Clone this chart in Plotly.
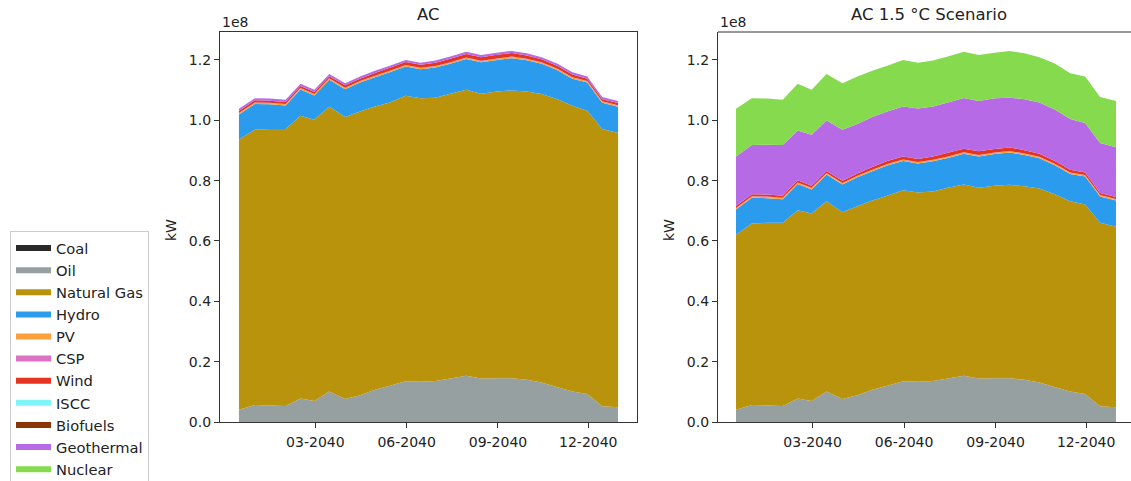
import plotly.graph_objects as go

# Semi-monthly sample dates
DATES = [
    "2039-12-15", "2039-12-31", "2040-01-15", "2040-01-31", "2040-02-15", "2040-02-29",
    "2040-03-15", "2040-03-31", "2040-04-15", "2040-04-30", "2040-05-15", "2040-05-31",
    "2040-06-15", "2040-06-30", "2040-07-15", "2040-07-31", "2040-08-15", "2040-08-31",
    "2040-09-15", "2040-09-30", "2040-10-15", "2040-10-31", "2040-11-15", "2040-11-30",
    "2040-12-15", "2040-12-31",
]

# Generation by source, in units of 1e8 kW
COAL = [0.0, 0.0, 0.0, 0.0, 0.0, 0.0, 0.0, 0.0, 0.0, 0.0, 0.0, 0.0, 0.0,
        0.0, 0.0, 0.0, 0.0, 0.0, 0.0, 0.0, 0.0, 0.0, 0.0, 0.0, 0.0, 0.0]
OIL = [0.041, 0.056, 0.055, 0.053, 0.078, 0.070, 0.101, 0.076, 0.089, 0.107, 0.120, 0.135, 0.133,
       0.136, 0.144, 0.153, 0.144, 0.145, 0.145, 0.140, 0.131, 0.115, 0.101, 0.093, 0.052, 0.049]
GAS_AC = [0.895, 0.913, 0.916, 0.918, 0.937, 0.932, 0.945, 0.935, 0.940, 0.939, 0.939, 0.946, 0.940,
          0.939, 0.944, 0.948, 0.944, 0.950, 0.954, 0.955, 0.956, 0.955, 0.947, 0.939, 0.919, 0.909]
GAS_15 = [0.580, 0.602, 0.605, 0.607, 0.624, 0.621, 0.631, 0.619, 0.626, 0.627, 0.630, 0.633, 0.628,
          0.628, 0.632, 0.634, 0.632, 0.638, 0.641, 0.641, 0.643, 0.639, 0.631, 0.628, 0.608, 0.598]
HYDRO = [0.083, 0.085, 0.082, 0.078, 0.087, 0.080, 0.088, 0.092, 0.096, 0.097, 0.100, 0.097, 0.096,
         0.100, 0.099, 0.102, 0.104, 0.105, 0.107, 0.104, 0.100, 0.096, 0.090, 0.093, 0.087, 0.087]
PV = [0.004, 0.004, 0.004, 0.004, 0.004, 0.004, 0.004, 0.004, 0.004, 0.004, 0.004, 0.004, 0.004,
      0.004, 0.004, 0.004, 0.004, 0.004, 0.004, 0.004, 0.004, 0.004, 0.004, 0.004, 0.004, 0.004]
CSP = [0.001, 0.001, 0.001, 0.001, 0.001, 0.001, 0.001, 0.001, 0.001, 0.001, 0.001, 0.001, 0.001,
       0.001, 0.001, 0.001, 0.001, 0.001, 0.001, 0.001, 0.001, 0.001, 0.001, 0.001, 0.001, 0.001]
WIND = [0.007, 0.007, 0.007, 0.007, 0.007, 0.007, 0.007, 0.008, 0.008, 0.009, 0.010, 0.010, 0.010,
        0.011, 0.012, 0.012, 0.012, 0.012, 0.012, 0.011, 0.010, 0.009, 0.009, 0.008, 0.007, 0.007]
ISCC = [0.0, 0.0, 0.0, 0.0, 0.0, 0.0, 0.0, 0.0, 0.0, 0.0, 0.0, 0.0, 0.0,
        0.0, 0.0, 0.0, 0.0, 0.0, 0.0, 0.0, 0.0, 0.0, 0.0, 0.0, 0.0, 0.0]
BIOFUELS = [0.0, 0.0, 0.0, 0.0, 0.0, 0.0, 0.0, 0.0, 0.0, 0.0, 0.0, 0.0, 0.0,
            0.0, 0.0, 0.0, 0.0, 0.0, 0.0, 0.0, 0.0, 0.0, 0.0, 0.0, 0.0, 0.0]
GEO_AC = [0.007, 0.007, 0.007, 0.007, 0.007, 0.007, 0.007, 0.007, 0.007, 0.007, 0.007, 0.007, 0.007,
          0.007, 0.007, 0.007, 0.007, 0.007, 0.007, 0.007, 0.007, 0.007, 0.007, 0.007, 0.007, 0.007]
GEO_15 = [0.164, 0.163, 0.165, 0.168, 0.165, 0.169, 0.167, 0.169, 0.164, 0.166, 0.164, 0.166, 0.167,
          0.166, 0.167, 0.168, 0.167, 0.168, 0.165, 0.169, 0.170, 0.171, 0.168, 0.164, 0.166, 0.165]
NUC_AC = [0.0, 0.0, 0.0, 0.0, 0.0, 0.0, 0.0, 0.0, 0.0, 0.0, 0.0, 0.0, 0.0,
          0.0, 0.0, 0.0, 0.0, 0.0, 0.0, 0.0, 0.0, 0.0, 0.0, 0.0, 0.0, 0.0]
NUC_15 = [0.158, 0.155, 0.153, 0.150, 0.155, 0.149, 0.154, 0.154, 0.157, 0.153, 0.152, 0.154, 0.152,
          0.152, 0.152, 0.153, 0.152, 0.151, 0.155, 0.152, 0.150, 0.152, 0.152, 0.154, 0.152, 0.153]

SOURCES = ["Coal", "Oil", "Natural Gas", "Hydro", "PV", "CSP", "Wind",
           "ISCC", "Biofuels", "Geothermal", "Nuclear"]
COLORS = ["#2a2a2a", "#97a0a1", "#b8930b", "#2b9bee", "#fba03b", "#dd72c4", "#e5341f",
          "#7ff5f7", "#8a3506", "#b76ae6", "#86da4e"]

SCENARIOS = [
    ("AC", [COAL, OIL, GAS_AC, HYDRO, PV, CSP, WIND, ISCC, BIOFUELS, GEO_AC, NUC_AC]),
    ("AC 1.5 °C Scenario", [COAL, OIL, GAS_15, HYDRO, PV, CSP, WIND, ISCC, BIOFUELS, GEO_15, NUC_15]),
]

UNIT = 1e8
FONT = "DejaVu Sans"
TXT = "#222222"
AXC = "#333333"

W, H = 1131, 481
ML, MR, MT, MB = 220, 0, 32, 59
PW = W - ML - MR
PH = H - MT - MB

DOMAINS = [[0.0, (637 - ML) / PW], [(718 - ML) / PW, 1.0]]
XRANGES = [["2039-11-25 21:36", "2041-01-19 02:24"], ["2039-11-26 21:36", "2041-01-15 02:24"]]
YMAX = 1.2926 * UNIT

fig = go.Figure()

for k, (title, layers) in enumerate(SCENARIOS):
    xa = "x" if k == 0 else "x2"
    ya = "y" if k == 0 else "y2"
    for name, color, vals in zip(SOURCES, COLORS, layers):
        fig.add_trace(go.Scatter(
            x=DATES, y=[v * UNIT for v in vals],
            stackgroup=f"stack{k}", mode="none",
            fillcolor=color, name=name, legendgroup=name,
            showlegend=(k == 0), xaxis=xa, yaxis=ya,
        ))

tick_x = ["2040-03-01", "2040-06-01", "2040-09-01", "2040-12-01"]
tick_x_txt = ["03-2040", "06-2040", "09-2040", "12-2040"]
tick_y = [0, 0.2e8, 0.4e8, 0.6e8, 0.8e8, 1.0e8, 1.2e8]
tick_y_txt = ["0.0", "0.2", "0.4", "0.6", "0.8", "1.0", "1.2"]

axis_common = dict(showgrid=False, zeroline=False, showline=True, linecolor=AXC, linewidth=1.2,
                   ticks="outside", ticklen=5, tickwidth=1.2, tickcolor=AXC,
                   tickfont=dict(family=FONT, size=14, color=TXT), automargin=False)

layout = dict(
    width=W, height=H,
    margin=dict(l=ML, r=MR, t=MT, b=MB, pad=0, autoexpand=False),
    paper_bgcolor="white", plot_bgcolor="white",
    font=dict(family=FONT, size=14, color=TXT),
    showlegend=True,
    legend=dict(
        xref="container", yref="container",
        x=10 / W, y=1 - 231 / H, xanchor="left", yanchor="top",
        bordercolor="#cccccc", borderwidth=1, bgcolor="white",
        font=dict(family=FONT, size=14.7, color=TXT),
        traceorder="normal", itemwidth=35, tracegroupgap=0,
        maxheight=400,
    ),
)

for k in range(2):
    sx = "" if k == 0 else "2"
    layout[f"xaxis{sx}"] = dict(
        axis_common, domain=DOMAINS[k], anchor=f"y{sx}", type="date",
        range=XRANGES[k], tickvals=tick_x, ticktext=tick_x_txt,
        mirror=(k == 0), ticklabelstandoff=2,
    )
    layout[f"yaxis{sx}"] = dict(
        axis_common, domain=[0, 1], anchor=f"x{sx}", range=[0, YMAX],
        tickvals=tick_y, ticktext=tick_y_txt, mirror=(k == 0),
    )

fig.update_layout(**layout)
# top spine for the right panel (its right edge runs past the canvas)
fig.add_shape(type="line", xref="paper", yref="paper", x0=DOMAINS[1][0], x1=1.0, y0=1, y1=1,
              line=dict(color=AXC, width=1.2))

annotations = []
TITLE_X = [428.5, 929.0]
for k, (title, _) in enumerate(SCENARIOS):
    d0, d1 = DOMAINS[k]
    annotations.append(dict(text=title, xref="paper", yref="paper", x=(TITLE_X[k] - ML) / PW,
                            y=(H - MB - 15) / PH,
                            xanchor="center", yanchor="middle", showarrow=False,
                            font=dict(family=FONT, size=16.5, color=TXT)))
    annotations.append(dict(text="1e8", xref="paper", yref="paper", x=d0, y=(H - MB - 22) / PH,
                            xanchor="left", yanchor="middle", showarrow=False,
                            font=dict(family=FONT, size=14, color=TXT)))
    kw_x = 171 if k == 0 else 669
    annotations.append(dict(text="kW", xref="paper", yref="paper", x=(kw_x - ML) / PW,
                            y=(H - MB - 230) / PH, xanchor="center", yanchor="middle",
                            textangle=-90, showarrow=False,
                            font=dict(family=FONT, size=14, color=TXT)))
fig.update_layout(annotations=annotations)

fig.write_html("out.html")
